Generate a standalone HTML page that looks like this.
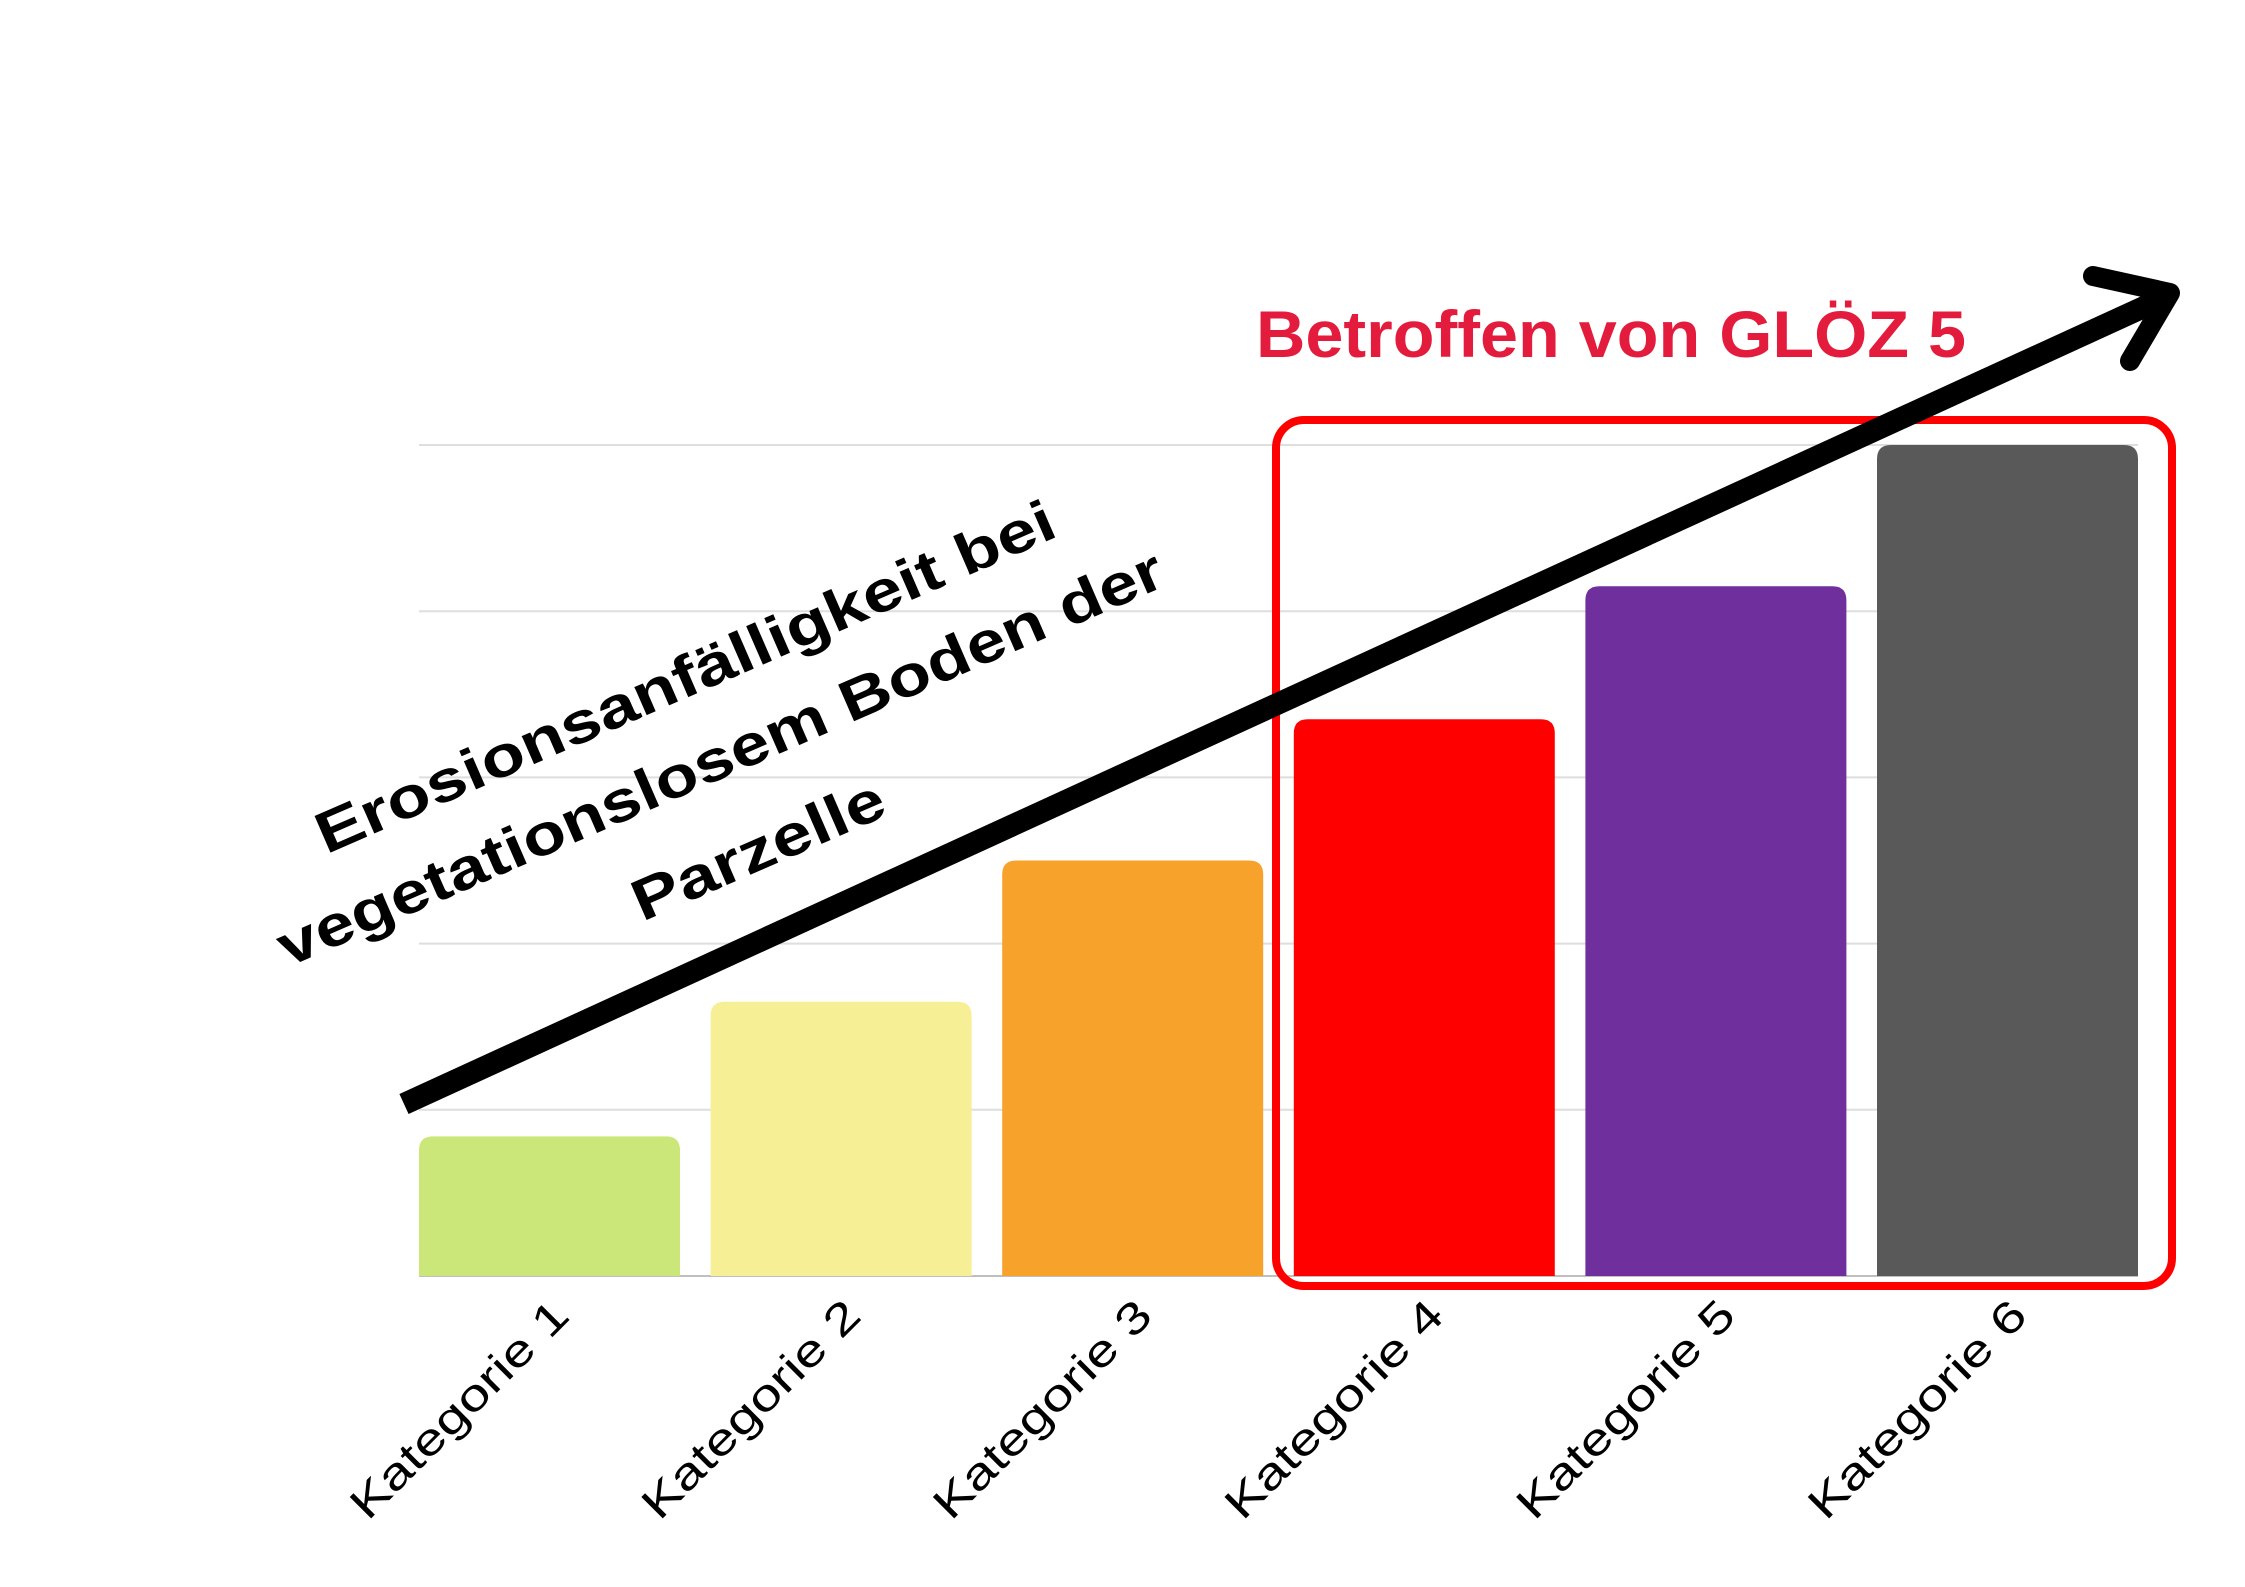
<!DOCTYPE html>
<html><head><meta charset="utf-8"><style>
html,body{margin:0;padding:0;background:#fff;}
svg{display:block;}
</style></head><body>
<svg id="chart" width="2245" height="1587" viewBox="0 0 2245 1587" xmlns="http://www.w3.org/2000/svg">
<g id="grid"></g>
<g id="bars"></g>
<g id="xlabels"></g>
<rect x="1276" y="420" width="896" height="866" rx="28" fill="none" stroke="#ff0000" stroke-width="8"/>
<text x="1256" y="357" font-family="'Liberation Sans', sans-serif" font-weight="bold" font-size="66" fill="#e31b3c" textLength="710" lengthAdjust="spacingAndGlyphs">Betroffen von GLÖZ 5</text>
<g stroke="#000" stroke-linecap="butt" fill="none">
<line x1="404" y1="1104" x2="2168" y2="296" stroke-width="22"/>
<polyline points="2093,276 2170,293 2130,361" stroke-width="20" stroke-linecap="round" stroke-linejoin="round"/>
</g>
<g font-family="'Liberation Sans', sans-serif" font-weight="bold" font-size="58" fill="#000" text-anchor="middle">
<text transform="translate(693,695) rotate(-23.5)" textLength="800" lengthAdjust="spacingAndGlyphs">Erosionsanfälligkeit bei</text>
<text transform="translate(728,776) rotate(-23.5)" textLength="960" lengthAdjust="spacingAndGlyphs">vegetationslosem Boden der</text>
<text transform="translate(766,868) rotate(-23.5)" textLength="270" lengthAdjust="spacingAndGlyphs">Parzelle</text>
</g>
</svg>
<script>
const categories = ["Kategorie 1","Kategorie 2","Kategorie 3","Kategorie 4","Kategorie 5","Kategorie 6"];
const values = [0.84, 1.65, 2.5, 3.35, 4.15, 5.0];
const colors = ["#cbe779","#f7ef95","#f7a22a","#ff0000","#6f2f9c","#595959"];
const gridTicks = [0,1,2,3,4,5];

const NS = "http://www.w3.org/2000/svg";
const x0 = 419, x1 = 2138, yBase = 1276, yTop = 445, vMax = 5;
const barW = 261;
const step = (x1 - x0 - barW) / (categories.length - 1);
function yScale(v){ return yBase - (yBase - yTop) * v / vMax; }
function xScale(i){ return x0 + step * i; }

const grid = document.getElementById('grid');
gridTicks.forEach(t => {
  const l = document.createElementNS(NS,'line');
  
  
  l.setAttribute('x1', x0); l.setAttribute('x2', x1);
  l.setAttribute('y1', yScale(t)); l.setAttribute('y2', yScale(t));
  l.setAttribute('stroke', t === 0 ? '#bfbfbf' : '#dedede');
  l.setAttribute('stroke-width', 2);
  grid.appendChild(l);
});

const bars = document.getElementById('bars');
const labels = document.getElementById('xlabels');
values.forEach((v, i) => {
  const x = xScale(i), y = yScale(v), r = 14;
  const p = document.createElementNS(NS,'path');
  
  
  p.setAttribute('d', `M${x},${yBase} L${x},${y+r} Q${x},${y} ${x+r},${y} L${x+barW-r},${y} Q${x+barW},${y} ${x+barW},${y+r} L${x+barW},${yBase} Z`);
  p.setAttribute('fill', colors[i]);
  bars.appendChild(p);

  const cx = x + barW/2;
  const t = document.createElementNS(NS,'text');
  
  
  t.setAttribute('transform', `translate(${cx+22},${1318}) rotate(-45)`);
  t.setAttribute('text-anchor', 'end');
  t.setAttribute('font-family', "'Liberation Sans', sans-serif");
  t.setAttribute('font-size', '44');
  t.setAttribute('textLength', '288');
  t.setAttribute('lengthAdjust', 'spacingAndGlyphs');
  t.setAttribute('fill', '#000');
  t.textContent = categories[i];
  labels.appendChild(t);
});
</script>
</body></html>
